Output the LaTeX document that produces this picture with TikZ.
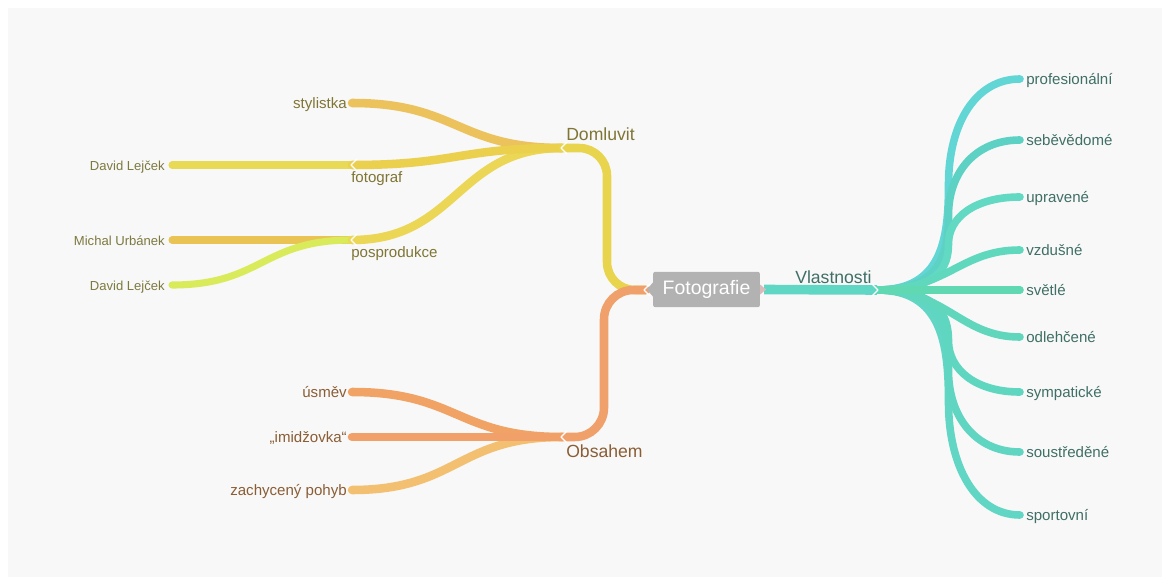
\documentclass[tikz,border=0pt]{standalone}
\usepackage{fontspec}
\setmainfont{Liberation Sans}
\usetikzlibrary{calc}
\definecolor{bgpanel}{HTML}{F8F8F8}
\definecolor{fotogray}{HTML}{B2B2B2}
\definecolor{cDom}{HTML}{E8D44D}
\definecolor{cSty}{HTML}{ECC25D}
\definecolor{cFot}{HTML}{EBD04E}
\definecolor{cDl1}{HTML}{E8DA55}
\definecolor{cPos}{HTML}{EBD655}
\definecolor{cMu}{HTML}{E9C454}
\definecolor{cDl2}{HTML}{D9EB5A}
\definecolor{cObs}{HTML}{F0A06A}
\definecolor{cUsm}{HTML}{F0A365}
\definecolor{cImi}{HTML}{F0A068}
\definecolor{cZach}{HTML}{F2C070}
\definecolor{cVla}{HTML}{60D6C4}
\definecolor{cV1}{HTML}{62D5D5}
\definecolor{cV2}{HTML}{5DD2C4}
\definecolor{cV3}{HTML}{62D9C2}
\definecolor{cV4}{HTML}{60D8BE}
\definecolor{cV5}{HTML}{60D8B2}
\definecolor{cV6}{HTML}{60D6BC}
\definecolor{cV7}{HTML}{5FD6C0}
\definecolor{cV8}{HTML}{60D6C2}
\definecolor{cV9}{HTML}{62D6C4}
\definecolor{tDom}{HTML}{7F7535}
\definecolor{tSml}{HTML}{7D7A40}
\definecolor{tObs}{HTML}{8A5D35}
\definecolor{tVla}{HTML}{3F6F66}
\begin{document}
\begin{tikzpicture}[x=0.75pt,y=-0.75pt,
  brline/.style={line width=6.4pt,line cap=round},
  lfline/.style={line width=5.3pt,line cap=round},
  vline/.style={line width=5.7pt,line cap=round},
  lbl/.style={inner sep=0pt,font=\fontsize{11.3}{13}\selectfont},
  sml/.style={inner sep=0pt,font=\fontsize{9.8}{12}\selectfont},
  midlbl/.style={inner sep=0pt,font=\fontsize{13.2}{15}\selectfont},
  notchmark/.style={draw=white,line width=1pt,line cap=round,line join=round}
]
\useasboundingbox (0,0) rectangle (1170,581);
\fill[white] (0,0) rectangle (1170,581);
\fill[bgpanel] (8,8) rectangle (1162,577);

% ---------- coordinates ----------
\coordinate (root) at (646,290);
\coordinate (dom) at (562,148);
\coordinate (obs) at (562,437);
\coordinate (vl) at (877,290);
\coordinate (sty) at (352,103);
\coordinate (fot) at (352,165);
\coordinate (pos) at (352,240);
\coordinate (dl1) at (172,165);
\coordinate (mu) at (172,240);
\coordinate (dl2) at (172,285);
\coordinate (usm) at (352,392);
\coordinate (imi) at (352,437);
\coordinate (zach) at (352,490);
\coordinate (v1) at (1020,79);
\coordinate (v2) at (1020,140);
\coordinate (v3) at (1020,197);
\coordinate (v4) at (1020,250);
\coordinate (v5) at (1020,290);
\coordinate (v6) at (1020,337);
\coordinate (v7) at (1020,392);
\coordinate (v8) at (1020,452);
\coordinate (v9) at (1020,515);
\foreach \i in {1,2,3,7,8,9} {\coordinate (m\i) at ($(vl)!0.5!(v\i)$);}

% ---------- Domluvit side ----------
\draw[lfline,cDl1] (fot) -- (dl1);
\draw[lfline,cMu] (pos) -- (mu);
\draw[lfline,cDl2] (pos) .. controls +(-90,0) and +(90,0) .. (dl2);
\draw[brline,cSty] (dom) .. controls +(-105,0) and +(105,0) .. (sty);
\draw[brline,cPos] (dom) .. controls +(-105,0) and +(105,0) .. (pos);
\draw[brline,cFot] (dom) .. controls +(-105,0) and +(105,0) .. (fot);
\draw[brline,cDom,rounded corners=21pt] (root) -- ++(-39,0) |- (dom);

% ---------- Obsahem side ----------
\draw[brline,cUsm] (obs) .. controls +(-105,0) and +(105,0) .. (usm);
\draw[brline,cZach] (obs) .. controls +(-105,0) and +(105,0) .. (zach);
\draw[brline,cImi] (obs) -- (imi);
\draw[brline,cObs,rounded corners=22pt] (root) -- ++(-42,0) |- (obs);

% ---------- Vlastnosti side ----------
\draw[vline,cV1] (vl) .. controls +(65,0) and +(0,55) .. (m1) .. controls +(0,-60) and +(-45,0) .. (v1);
\draw[vline,cV2] (vl) .. controls +(63,0) and +(0,40) .. (m2) .. controls +(0,-42) and +(-45,0) .. (v2);
\draw[vline,cV3] (vl) .. controls +(60,0) and +(0,25) .. (m3) .. controls +(0,-26) and +(-45,0) .. (v3);
\draw[vline,cV4] (vl) .. controls +(70,0) and +(-60,0) .. (v4);
\draw[vline,cV9] (vl) .. controls +(65,0) and +(0,-58) .. (m9) .. controls +(0,63) and +(-45,0) .. (v9);
\draw[vline,cV8] (vl) .. controls +(63,0) and +(0,-43) .. (m8) .. controls +(0,45) and +(-45,0) .. (v8);
\draw[vline,cV7] (vl) .. controls +(60,0) and +(0,-27) .. (m7) .. controls +(0,28) and +(-45,0) .. (v7);
\draw[vline,cV6] (vl) .. controls +(70,0) and +(-60,0) .. (v6);
\draw[vline,cV5] (vl) -- (v5);

% ---------- root node ----------
\node[fill=fotogray,rounded corners=1.5pt,minimum width=80pt,minimum height=26.5pt,inner sep=0pt,
      text=white,font=\fontsize{14.6}{17}\selectfont] (fotografie) at (706.5,289.5) {Fotografie};
\fill[fotogray] (fotografie.west) ++(0,-7) -- ++(-6,7) -- ++(6,7) -- cycle;
\draw[line width=7.2pt,cVla] (fotografie.east) ++(4,0) -- (vl);
\fill[fotogray!80!red!60!white] (fotografie.east) ++(0,-5) -- ++(6,5) -- ++(-6,5) -- cycle;

% ---------- notches ----------
\draw[notchmark] (567,142) -- (561,148) -- (567,154);
\draw[notchmark] (567,431) -- (561,437) -- (567,443);
\draw[notchmark] (357,159) -- (351,165) -- (357,171);
\draw[notchmark] (357,234) -- (351,240) -- (357,246);
\draw[notchmark] (872,284) -- (878,290) -- (872,296);
\draw[notchmark] (650,284) -- (644,290) -- (650,296);

% ---------- labels ----------
\node[midlbl,text=tDom,anchor=base west] (lDom) at (566,141) {Domluvit};
\node[midlbl,text=tObs,anchor=base west] (lObs) at (566,457) {Obsahem};
\node[midlbl,text=tVla,anchor=base west] (lVla) at (795,283) {Vlastnosti};

\node[lbl,text=tDom,anchor=mid east] (lSty) at (347,104.5) {stylistka};
\node[lbl,text=tDom,anchor=base west] (lFot) at (351,182) {fotograf};
\node[lbl,text=tDom,anchor=base west] (lPos) at (351,257) {posprodukce};
\node[sml,text=tSml,anchor=mid east] (lDl1) at (165,166.5) {David Lejček};
\node[sml,text=tSml,anchor=mid east] (lMu) at (165,241.5) {Michal Urbánek};
\node[sml,text=tSml,anchor=mid east] (lDl2) at (165,286.5) {David Lejček};

\node[lbl,text=tObs,anchor=mid east] (lUsm) at (347,393.5) {úsměv};
\node[lbl,text=tObs,anchor=mid east] (lImi) at (347,438.5) {„imidžovka“};
\node[lbl,text=tObs,anchor=mid east] (lZach) at (347,491.5) {zachycený pohyb};

\node[lbl,text=tVla,anchor=mid west] (l1) at (1026,80.5) {profesionální};
\node[lbl,text=tVla,anchor=mid west] (l2) at (1026,141.5) {seběvědomé};
\node[lbl,text=tVla,anchor=mid west] (l3) at (1026,198.5) {upravené};
\node[lbl,text=tVla,anchor=mid west] (l4) at (1026,251.5) {vzdušné};
\node[lbl,text=tVla,anchor=mid west] (l5) at (1026,291.5) {světlé};
\node[lbl,text=tVla,anchor=mid west] (l6) at (1026,338.5) {odlehčené};
\node[lbl,text=tVla,anchor=mid west] (l7) at (1026,393.5) {sympatické};
\node[lbl,text=tVla,anchor=mid west] (l8) at (1026,453.5) {soustředěné};
\node[lbl,text=tVla,anchor=mid west] (l9) at (1026,516.5) {sportovní};
\end{tikzpicture}
\end{document}
